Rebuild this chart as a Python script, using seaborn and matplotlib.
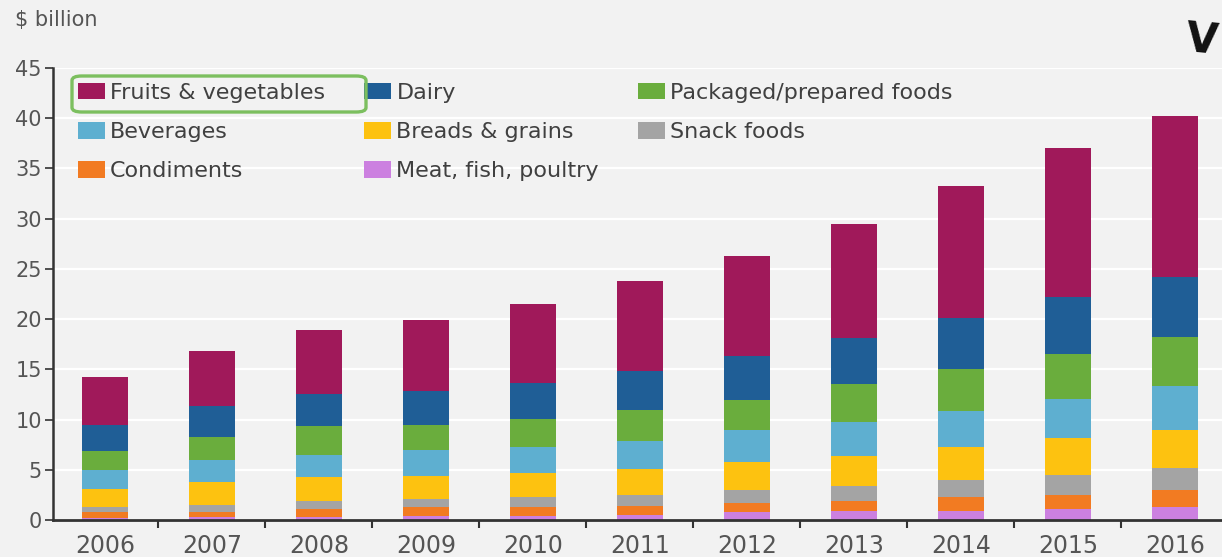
import numpy as np
import pandas as pd
import seaborn as sns
import matplotlib
matplotlib.use("Agg")
import matplotlib.pyplot as plt
from matplotlib.patches import Patch, FancyBboxPatch

years = ["2006", "2007", "2008", "2009", "2010", "2011", "2012", "2013", "2014", "2015", "2016"]

# stacked bottom -> top
meat = [0.20, 0.27, 0.33, 0.44, 0.44, 0.54, 0.77, 0.87, 0.94, 1.10, 1.34]
condiments = [0.60, 0.57, 0.77, 0.83, 0.90, 0.90, 0.91, 1.00, 1.34, 1.35, 1.66]
snack = [0.50, 0.70, 0.84, 0.83, 0.94, 1.00, 1.27, 1.47, 1.67, 2.00, 2.13]
breads = [1.80, 2.25, 2.35, 2.26, 2.41, 2.68, 2.85, 3.00, 3.35, 3.70, 3.87]
beverages = [1.90, 2.17, 2.18, 2.61, 2.61, 2.77, 3.18, 3.45, 3.52, 3.86, 4.35]
packaged = [1.90, 2.28, 2.84, 2.51, 2.75, 3.02, 3.01, 3.78, 4.20, 4.50, 4.85]
dairy = [2.60, 3.08, 3.19, 3.35, 3.62, 3.90, 4.30, 4.50, 5.10, 5.70, 6.00]
fruits = [4.70, 5.50, 6.40, 7.10, 7.80, 9.00, 10.00, 11.40, 13.10, 14.80, 16.00]

series_names = ["Meat, fish, poultry", "Condiments", "Snack foods", "Breads & grains",
                "Beverages", "Packaged/prepared foods", "Dairy", "Fruits & vegetables"]
series_vals = [meat, condiments, snack, breads, beverages, packaged, dairy, fruits]
colors = {
    "Fruits & vegetables": "#a0195a",
    "Dairy": "#1f5e96",
    "Packaged/prepared foods": "#6aad3d",
    "Beverages": "#5eafd0",
    "Breads & grains": "#fdc210",
    "Snack foods": "#a4a4a4",
    "Condiments": "#f27b22",
    "Meat, fish, poultry": "#cc80e0",
}

df = pd.DataFrame({n: v for n, v in zip(series_names, series_vals)}, index=years)
cum = df.cumsum(axis=1)

sns.set_theme(style="white")
plt.rcParams['font.family'] = ['DejaVu Sans']

fig = plt.figure(figsize=(12.22, 5.57), dpi=100)
bg = "#f2f2f2"
fig.patch.set_facecolor(bg)
ax = fig.add_axes([53/1222, 37/557, 1 - 53/1222, (520-68)/557])
ax.set_facecolor(bg)

# draw cumulative totals from top series down so they overlay as a stack
for name in reversed(series_names):
    sub = pd.DataFrame({"year": years, "value": cum[name].values})
    sns.barplot(data=sub, x="year", y="value", color=colors[name], width=0.43,
                saturation=1, ax=ax, edgecolor="none", linewidth=0, zorder=3)

ax.set_xlim(-0.486, 10.44)
ax.set_ylim(0, 45)
ax.set_yticks(np.arange(0, 46, 5))
ax.set_xlabel("")
ax.set_ylabel("")
ax.yaxis.grid(True, color="white", linewidth=1.6, zorder=0)
ax.set_axisbelow(True)

for s in ["top", "right"]:
    ax.spines[s].set_visible(False)
ax.spines["left"].set_color("#333333")
ax.spines["left"].set_linewidth(1.8)
ax.spines["bottom"].set_color("#333333")
ax.spines["bottom"].set_linewidth(2.0)
ax.spines["bottom"].set_zorder(5)

ax.tick_params(axis="y", which="major", length=6, width=1.2, color="#333333",
               labelsize=15, labelcolor="#555555", pad=2, left=True)
ax.set_xticks(range(len(years)))
ax.set_xticklabels(years)
ax.tick_params(axis="x", which="major", length=0, labelsize=17, labelcolor="#555555", pad=10)
ax.set_xticks(np.arange(0.5, len(years) - 0.5, 1.0), minor=True)
ax.tick_params(axis="x", which="minor", length=6, width=1.5, color="#333333", bottom=True)

# legend (column-major order matching reference)
leg_order = ["Fruits & vegetables", "Beverages", "Condiments",
             "Dairy", "Breads & grains", "Meat, fish, poultry",
             "Packaged/prepared foods", "Snack foods"]
handles = [Patch(facecolor=colors[n], edgecolor="none", label=n) for n in leg_order]
leg = fig.legend(handles=handles, loc="upper left", ncol=3,
                 bbox_to_anchor=(78/1222, 1 - 83/557), bbox_transform=fig.transFigure,
                 frameon=False, fontsize=16, handlelength=1.2, handleheight=0.75,
                 handletextpad=0.25, columnspacing=1.75, labelspacing=0.86,
                 borderpad=0, borderaxespad=0)
for t in leg.get_texts():
    t.set_color("#404040")

# green highlight box around first legend entry
box = FancyBboxPatch((72/1222, (557-112)/557), 294/1222, 36/557,
                     boxstyle="round,pad=0,rounding_size=0.008",
                     transform=fig.transFigure, facecolor="none",
                     edgecolor="#7cbf5f", linewidth=2.4, zorder=10)
fig.patches.append(box)

fig.text(15/1222, 1 - 20/557, "$ billion", fontsize=15, color="#555555",
         ha="left", va="center")
fig.text(1220/1222, 1 - 40/557, "V", fontsize=30, fontweight="bold", color="#111111",
         ha="right", va="center", rotation=-5)

fig.savefig("out.png", dpi=100, facecolor=bg)
